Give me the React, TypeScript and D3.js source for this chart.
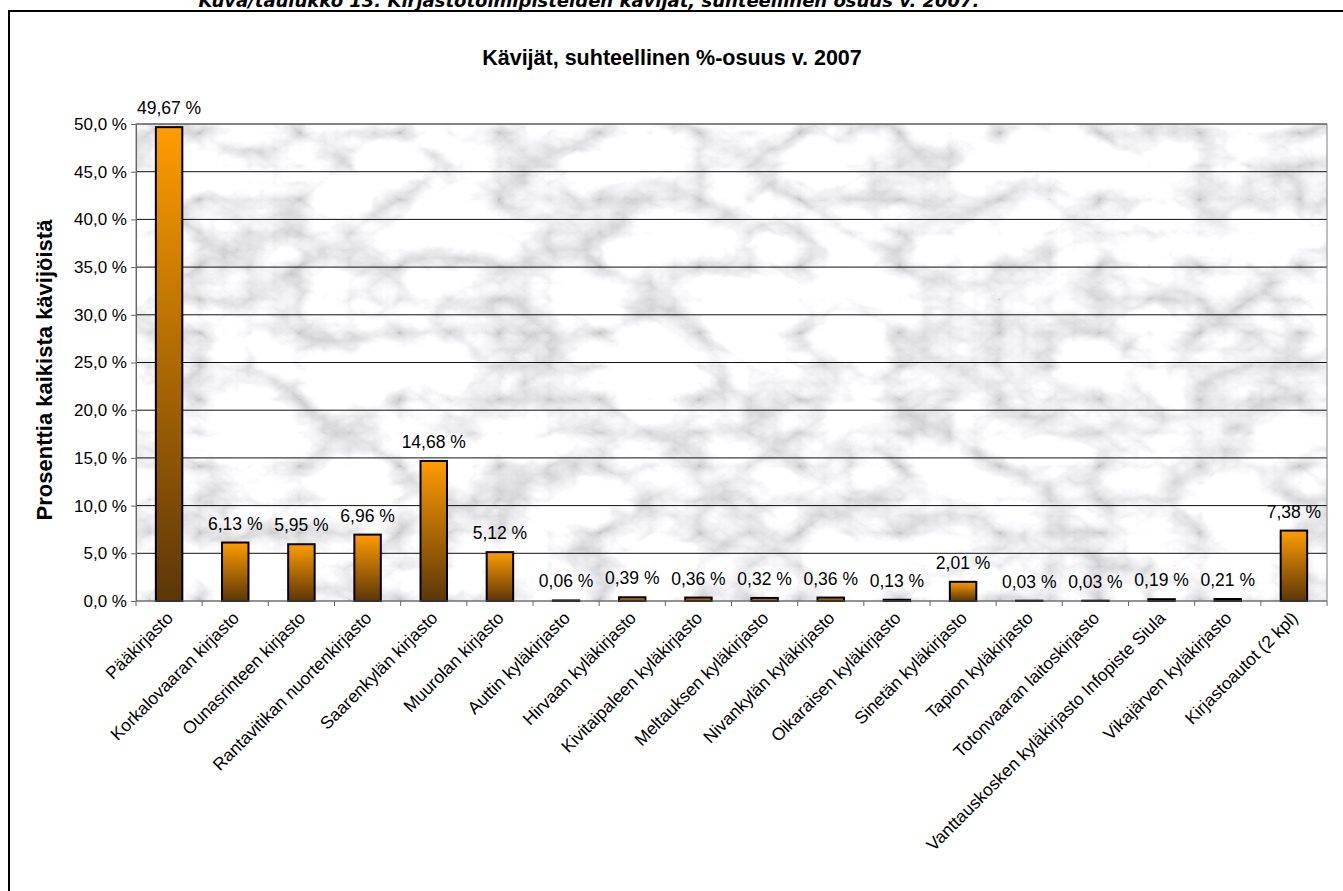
import React, { useEffect, useRef } from "react";
import * as d3 from "d3";

const categories = [
  "Pääkirjasto",
  "Korkalovaaran kirjasto",
  "Ounasrinteen kirjasto",
  "Rantavitikan nuortenkirjasto",
  "Saarenkylän kirjasto",
  "Muurolan kirjasto",
  "Auttin kyläkirjasto",
  "Hirvaan kyläkirjasto",
  "Kivitaipaleen kyläkirjasto",
  "Meltauksen kyläkirjasto",
  "Nivankylän kyläkirjasto",
  "Oikaraisen kyläkirjasto",
  "Sinetän kyläkirjasto",
  "Tapion kyläkirjasto",
  "Totonvaaran laitoskirjasto",
  "Vanttauskosken kyläkirjasto Infopiste Siula",
  "Vikajärven kyläkirjasto",
  "Kirjastoautot (2 kpl)",
];

const shares = [
  49.67, 6.13, 5.95, 6.96, 14.68, 5.12, 0.06, 0.39, 0.36, 0.32, 0.36, 0.13, 2.01,
  0.03, 0.03, 0.19, 0.21, 7.38,
];

const yTicks = [0, 5, 10, 15, 20, 25, 30, 35, 40, 45, 50];

const fi = d3.formatLocale({
  decimal: ",",
  thousands: " ",
  grouping: [3],
  currency: ["", " €"],
});

function App() {
  const svgRef = useRef<SVGSVGElement>(null);
  const width = 1343;
  const height = 891;

  useEffect(() => {
    const svg = d3.select(svgRef.current);
    svg.selectAll("*").remove();

    const margin = { top: 124, right: 16, bottom: 290, left: 136 };
    const font = "Liberation Sans, Arial, sans-serif";

    const x = d3
      .scaleBand()
      .domain(categories)
      .range([margin.left, width - margin.right])
      .paddingInner(0.6)
      .paddingOuter(0.3);

    const y = d3
      .scaleLinear()
      .domain([0, 50])
      .range([height - margin.bottom, margin.top]);

    const defs = svg.append("defs");

    // orange -> brown bar fill
    const grad = defs
      .append("linearGradient")
      .attr("id", "barGrad")
      .attr("x1", 0)
      .attr("y1", 0)
      .attr("x2", 0)
      .attr("y2", 1);
    grad.append("stop").attr("offset", "0%").attr("stop-color", "#ff9c00");
    grad.append("stop").attr("offset", "100%").attr("stop-color", "#5c3608");

    // marble-ish background texture
    const filter = defs
      .append("filter")
      .attr("id", "marble")
      .attr("x", 0)
      .attr("y", 0)
      .attr("width", 1)
      .attr("height", 1);
    filter
      .append("feTurbulence")
      .attr("type", "turbulence")
      .attr("baseFrequency", "0.01 0.015")
      .attr("numOctaves", 5)
      .attr("seed", 3)
      .attr("result", "noise");
    filter
      .append("feColorMatrix")
      .attr("in", "noise")
      .attr("type", "matrix")
      .attr(
        "values",
        "0.9 0.3 0 0 0.56  0.9 0.3 0 0 0.56  0.9 0.3 0 0 0.58  0 0 0 0 1"
      );

    svg.append("rect").attr("width", width).attr("height", height).attr("fill", "#fff");

    // caption (clipped by page top, as in the source)
    svg
      .append("text")
      .attr("x", 589)
      .attr("y", 7)
      .attr("text-anchor", "middle")
      .style("font-family", "DejaVu Sans, Verdana, sans-serif")
      .style("font-size", "18px")
      .style("font-weight", "bold")
      .style("font-style", "italic")
      .text("Kuva/taulukko 13. Kirjastotoimipisteiden kävijät, suhteellinen osuus v. 2007.");

    // outer frame
    svg
      .append("rect")
      .attr("x", 9)
      .attr("y", 11)
      .attr("width", width)
      .attr("height", height)
      .attr("fill", "none")
      .attr("stroke", "#000")
      .attr("stroke-width", 2);

    // plot area background
    svg
      .append("rect")
      .attr("x", margin.left)
      .attr("y", margin.top)
      .attr("width", width - margin.right - margin.left)
      .attr("height", height - margin.bottom - margin.top)
      .attr("filter", "url(#marble)");

    // gridlines
    svg
      .append("g")
      .selectAll("line")
      .data(yTicks.filter((d) => d > 0))
      .enter()
      .append("line")
      .attr("x1", margin.left)
      .attr("x2", width - margin.right)
      .attr("y1", (d) => y(d))
      .attr("y2", (d) => y(d))
      .attr("stroke", "#111")
      .attr("stroke-width", 1);

    // plot border
    svg
      .append("rect")
      .attr("x", margin.left)
      .attr("y", margin.top)
      .attr("width", width - margin.right - margin.left)
      .attr("height", height - margin.bottom - margin.top)
      .attr("fill", "none")
      .attr("stroke", "#808080")
      .attr("stroke-width", 1);

    // bars
    svg
      .append("g")
      .selectAll("rect")
      .data(shares)
      .enter()
      .append("rect")
      .attr("x", (d, i) => x(categories[i]) as number)
      .attr("y", (d) => y(d))
      .attr("width", x.bandwidth())
      .attr("height", (d) => y(0) - y(d))
      .attr("fill", "url(#barGrad)")
      .attr("stroke", "#000")
      .attr("stroke-width", 2);

    // value labels
    svg
      .append("g")
      .selectAll("text")
      .data(shares)
      .enter()
      .append("text")
      .attr("x", (d, i) => (x(categories[i]) as number) + x.bandwidth() / 2)
      .attr("y", (d) => y(d) - 13)
      .attr("text-anchor", "middle")
      .style("font-family", font)
      .style("font-size", "17.5px")
      .text((d) => fi.format(".2f")(d) + " %");

    // y axis
    const yAxis = svg
      .append("g")
      .attr("transform", `translate(${margin.left},0)`)
      .call(
        d3
          .axisLeft(y)
          .tickValues(yTicks)
          .tickSizeInner(5)
          .tickSizeOuter(0)
          .tickPadding(4)
          .tickFormat((d) => fi.format(".1f")(d as number) + " %")
      );
    yAxis.select(".domain").attr("stroke", "#666");
    yAxis.selectAll(".tick line").attr("stroke", "#666");
    yAxis
      .selectAll("text")
      .style("font-family", font)
      .style("font-size", "17px")
      .attr("fill", "#000");

    // x axis: ticks on category boundaries
    const step = x.step();
    const xAxis = svg.append("g");
    xAxis
      .append("line")
      .attr("x1", margin.left)
      .attr("x2", width - margin.right)
      .attr("y1", y(0))
      .attr("y2", y(0))
      .attr("stroke", "#666");
    xAxis
      .selectAll("line.tk")
      .data(d3.range(categories.length + 1))
      .enter()
      .append("line")
      .attr("class", "tk")
      .attr("x1", (i) => margin.left + i * step)
      .attr("x2", (i) => margin.left + i * step)
      .attr("y1", y(0))
      .attr("y2", y(0) + 5)
      .attr("stroke", "#666");

    xAxis
      .selectAll("text")
      .data(categories)
      .enter()
      .append("text")
      .attr("transform", (d) => {
        const cx = (x(d) as number) + x.bandwidth() / 2 + 5;
        return `translate(${cx},${y(0) + 18}) rotate(-45)`;
      })
      .attr("text-anchor", "end")
      .style("font-family", font)
      .style("font-size", "17.5px")
      .text((d) => d);

    // chart title
    svg
      .append("text")
      .attr("x", 672)
      .attr("y", 65)
      .attr("text-anchor", "middle")
      .style("font-family", font)
      .style("font-size", "21.5px")
      .style("font-weight", "bold")
      .text("Kävijät, suhteellinen %-osuus v. 2007");

    // y axis title
    svg
      .append("text")
      .attr("transform", `translate(52,370) rotate(-90)`)
      .attr("text-anchor", "middle")
      .style("font-family", font)
      .style("font-size", "22px")
      .style("font-weight", "bold")
      .text("Prosenttia kaikista kävijöistä");
  }, []);

  return (
    <svg
      ref={svgRef}
      width={width}
      height={height}
      style={{ position: "absolute", left: 0, top: 0, display: "block" }}
    ></svg>
  );
}

export default App;
